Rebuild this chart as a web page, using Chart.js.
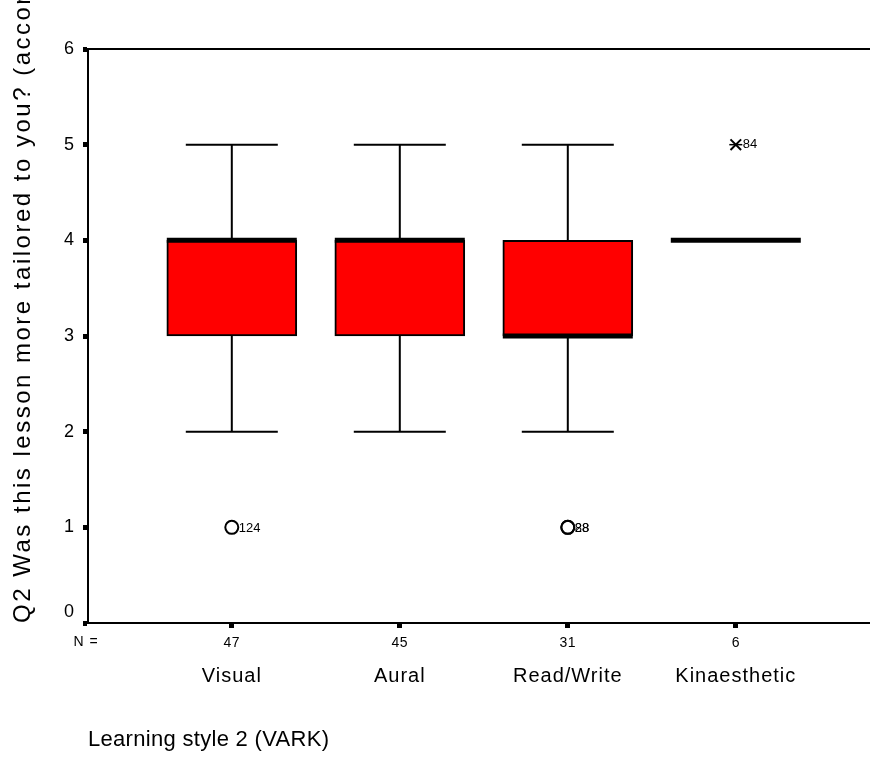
<!DOCTYPE html>
<html>
<head>
<meta charset="utf-8">
<script src="https://cdn.jsdelivr.net/npm/chart.js@4.4.0/dist/chart.umd.min.js"></script>
<style>
  html, body { margin: 0; padding: 0; background: #ffffff; }
  #wrap { width: 870px; height: 759px; }
</style>
</head>
<body>
<div id="wrap"><canvas id="c" width="870" height="759"></canvas></div>
<script>
// Box plot summaries per learning style
const categories   = ['Visual', 'Aural', 'Read/Write', 'Kinaesthetic'];
const groupN       = [47, 45, 31, 6];
const lowerWhisker = [2, 2, 2, null];
const quartile1    = [3, 3, 3, 4];
const medians      = [4, 4, 3, 4];
const quartile3    = [4, 4, 4, 4];
const upperWhisker = [5, 5, 5, null];

// Outliers (circles) and extremes (stars), with their case numbers
const outlierCategory = [0, 2, 2];
const outlierValue    = [1, 1, 1];
const outlierCase     = ['124', '28', '88'];
const extremeCategory = [3];
const extremeValue    = [5];
const extremeCase     = ['84'];

const yTicks = [0, 1, 2, 3, 4, 5, 6];
const yTitle = 'Q2 Was this lesson more tailored to you? (according to your learning style)';
const xTitle = 'Learning style 2 (VARK)';

const FONT = "'Liberation Sans', Arial, Helvetica, sans-serif";
Chart.defaults.font.family = FONT;
Chart.defaults.color = '#000000';

// Letter spacing (px) for tick labels and titles, per axis
const LABEL_SPACING = { x: 0.5, xCat: 1, y: 0 };
const TITLE_SPACING = { xCat: 0.3, y: 2.5 };

class SpacedLinearScale extends Chart.LinearScale {
  drawLabels(area) {
    const c = this.ctx;
    c.save();
    c.letterSpacing = (LABEL_SPACING[this.id] || 0) + 'px';
    super.drawLabels(area);
    c.restore();
  }
  drawTitle() {
    const c = this.ctx;
    c.save();
    c.letterSpacing = (TITLE_SPACING[this.id] || 0) + 'px';
    super.drawTitle();
    c.restore();
  }
}
SpacedLinearScale.id = 'spacedLinear';
SpacedLinearScale.defaults = Chart.LinearScale.defaults;
Chart.register(SpacedLinearScale);

const X_MIN = 1 - 143.8 / 168;
const X_MAX = 4 + 134.2 / 168;
const catPos = categories.map((c, i) => i + 1);

const boxData = [];
const whiskerData = [];
const capData = [];
categories.forEach((c, i) => {
  if (quartile3[i] > quartile1[i]) boxData.push({ x: i + 1, y: [quartile1[i], quartile3[i]] });
  if (upperWhisker[i] != null) {
    whiskerData.push({ x: i + 1, y: quartile3[i] }, { x: i + 1, y: upperWhisker[i] }, { x: i + 1, y: null });
    capData.push({ x: i + 1, y: upperWhisker[i] });
  }
  if (lowerWhisker[i] != null) {
    whiskerData.push({ x: i + 1, y: quartile1[i] }, { x: i + 1, y: lowerWhisker[i] }, { x: i + 1, y: null });
    capData.push({ x: i + 1, y: lowerWhisker[i] });
  }
});
const medianData  = categories.map((c, i) => ({ x: i + 1, y: medians[i] }));
const outlierData = outlierValue.map((v, k) => ({ x: outlierCategory[k] + 1, y: v }));
const extremeData = extremeValue.map((v, k) => ({ x: extremeCategory[k] + 1, y: v }));

const fixedTicks = (s) => { s.ticks = catPos.map(v => ({ value: v })); };
// Fix an axis' thickness and drop the automatic label padding
const fixSize = (size) => (s) => {
  if (s.isHorizontal()) s.height = size; else s.width = size;
  s.paddingLeft = s.paddingRight = s.paddingTop = s.paddingBottom = 0;
};

// Case labels beside outliers, and the "N =" row caption
const annotations = {
  id: 'annotations',
  afterDatasetsDraw(chart) {
    const { ctx, scales } = chart;
    const xs = scales.x, ys = scales.y;
    ctx.save();
    ctx.fillStyle = '#000';
    ctx.font = '13px ' + FONT;
    ctx.textAlign = 'left';
    ctx.textBaseline = 'middle';
    outlierValue.forEach((v, k) => {
      ctx.fillText(outlierCase[k], xs.getPixelForValue(outlierCategory[k] + 1) + 7, ys.getPixelForValue(v) + 1);
    });
    extremeValue.forEach((v, k) => {
      ctx.fillText(extremeCase[k], xs.getPixelForValue(extremeCategory[k] + 1) + 7, ys.getPixelForValue(v));
    });
    ctx.font = '14px ' + FONT;
    ctx.letterSpacing = '1px';
    ctx.textAlign = 'center';
    ctx.textBaseline = 'top';
    ctx.fillText('N =', xs.left - 2, xs.top + 12);
    ctx.restore();
  }
};

new Chart(document.getElementById('c'), {
  type: 'bar',
  data: {
    datasets: [
      {
        type: 'bar', data: boxData,
        backgroundColor: '#ff0000', borderColor: '#000000', borderWidth: 2,
        borderSkipped: false, barThickness: 130, order: 5
      },
      {
        type: 'line', data: whiskerData, borderColor: '#000000', borderWidth: 2,
        pointRadius: 0, spanGaps: false, fill: false, order: 4
      },
      {
        type: 'line', data: capData, showLine: false, pointStyle: 'line',
        pointRadius: 46, pointBorderWidth: 2, pointBorderColor: '#000000', order: 3
      },
      {
        type: 'line', data: medianData, showLine: false, pointStyle: 'line',
        pointRadius: 65, pointBorderWidth: 5, pointBorderColor: '#000000', order: 1
      },
      {
        type: 'line', data: outlierData, showLine: false, pointStyle: 'circle',
        pointRadius: 6.5, pointBorderWidth: 2, pointBorderColor: '#000000',
        pointBackgroundColor: 'rgba(255,255,255,0)', order: 0
      },
      {
        type: 'line', data: extremeData, showLine: false, pointStyle: 'crossRot',
        pointRadius: 7.5, pointBorderWidth: 2, pointBorderColor: '#000000', order: 0
      },
      {
        type: 'line', data: extremeData, showLine: false, pointStyle: 'line',
        pointRadius: 6.5, pointBorderWidth: 1.5, pointBorderColor: '#000000', order: 0
      }
    ]
  },
  options: {
    responsive: false,
    animation: false,
    events: [],
    layout: { padding: 0, autoPadding: false },
    plugins: { legend: { display: false }, title: { display: false }, tooltip: { enabled: false } },
    scales: {
      x: {
        type: 'spacedLinear', position: 'bottom', weight: 0, min: X_MIN, max: X_MAX, offset: false,
        afterBuildTicks: fixedTicks,
        afterFit: fixSize(30),
        ticks: {
          callback: (v, i) => String(groupN[i]), autoSkip: false, maxRotation: 0,
          font: { size: 14 }, color: '#000', padding: 7
        },
        grid: {
          display: true, drawOnChartArea: false, drawTicks: true, offset: false,
          tickLength: 5, tickWidth: 5, tickColor: '#000', color: '#000'
        },
        border: { display: true, color: '#000', width: 2 }
      },
      xCat: {
        type: 'spacedLinear', position: 'bottom', weight: 1, min: X_MIN, max: X_MAX, offset: false,
        afterBuildTicks: fixedTicks,
        afterFit: fixSize(106),
        ticks: {
          callback: (v, i) => categories[i], autoSkip: false, maxRotation: 0,
          font: { size: 20 }, color: '#000', padding: 11
        },
        grid: { display: false, drawTicks: false },
        border: { display: false },
        title: {
          display: true, text: xTitle, align: 'start', color: '#000',
          font: { size: 22 }, padding: { top: 0, bottom: 6 }
        }
      },
      xTop: {
        type: 'spacedLinear', position: 'top', min: X_MIN, max: X_MAX, offset: false,
        afterFit: fixSize(49),
        ticks: { display: false },
        grid: { display: false, drawTicks: false },
        border: { display: true, color: '#000', width: 2 }
      },
      y: {
        type: 'spacedLinear', position: 'left', min: 0, max: 6,
        afterBuildTicks: (s) => { s.ticks = yTicks.map(v => ({ value: v })); },
        afterFit: fixSize(88),
        ticks: {
          // the zero label sits a little above the baseline
          callback: (v) => (v === 0 ? ['0', ''] : String(v)),
          font: { size: 18 }, color: '#000', padding: 9
        },
        grid: {
          display: true, drawOnChartArea: false, drawTicks: true,
          tickLength: 5, tickWidth: 5, tickColor: '#000', color: '#000'
        },
        border: { display: true, color: '#000', width: 2 },
        title: {
          display: true, text: yTitle, align: 'start', color: '#000',
          font: { size: 24 }, padding: { top: 9, bottom: 0 }
        }
      }
    }
  },
  plugins: [annotations]
});
</script>
</body>
</html>
